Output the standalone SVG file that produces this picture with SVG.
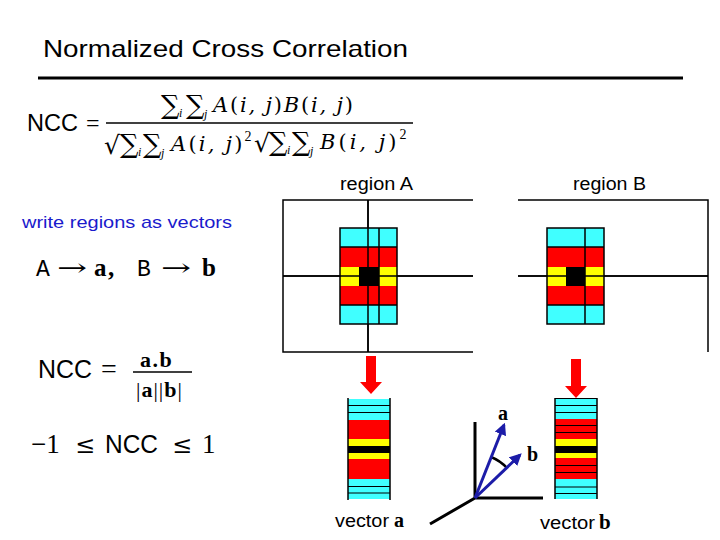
<svg xmlns="http://www.w3.org/2000/svg" width="720" height="540" viewBox="0 0 720 540">
<style>
.sans{font-family:"Liberation Sans",Arial,sans-serif;fill:#000}
.ser{font-family:"Liberation Serif","DejaVu Serif",serif;fill:#000}
.dj{font-family:"DejaVu Serif","Liberation Serif",serif;fill:#000}
.it{font-style:italic}
.bd{font-weight:bold}
.mono{font-family:"Liberation Mono","DejaVu Sans Mono",monospace;fill:#000}
.grid{stroke:#000;stroke-width:1.5;fill:none}
.thin{stroke:#000;stroke-width:1;fill:none}
.cy{fill:#40ffff}.rd{fill:#ff0000}.ye{fill:#ffff00}.bk{fill:#000}
.axis{stroke:#000;stroke-width:3;fill:none}
.vec{stroke:#1c1ca8;stroke-width:3;fill:none}
.sum{font-size:26px;font-style:normal}
.sub{font-family:"Liberation Serif",serif;font-style:italic;font-size:12px}
.up{font-family:"Liberation Serif",serif;font-style:normal;font-size:14px;letter-spacing:0}
.rm{font-style:normal}
</style>
<defs>
<marker id="bh" viewBox="0 0 10 10" refX="8" refY="5" markerWidth="4" markerHeight="4" orient="auto" markerUnits="strokeWidth">
<path d="M0,0 L10,5 L0,10 z" fill="#1c1ca8"/>
</marker>
</defs>
<rect width="720" height="540" fill="#fff"/>

<g id="title">
<text class="sans" x="43" y="57" font-size="24" textLength="365" lengthAdjust="spacingAndGlyphs">Normalized Cross Correlation</text>
<line x1="38" y1="78" x2="683" y2="78" stroke="#000" stroke-width="3"/>
</g>

<g id="formula-ncc">
<text class="sans" x="27" y="131" font-size="24" textLength="51" lengthAdjust="spacingAndGlyphs">NCC</text>
<text class="ser" x="86" y="131" font-size="24">=</text>
<text class="dj it" y="114" font-size="21"><tspan class="sum" x="161">∑</tspan><tspan class="sub" x="179" dy="3">i</tspan><tspan class="sum" x="186" dy="-3">∑</tspan><tspan class="sub" x="204" dy="4">j</tspan><tspan x="213" dy="-6" style="letter-spacing:1.8px">A<tspan class="rm">(</tspan>i, j<tspan class="rm">)</tspan>B<tspan class="rm">(</tspan>i, j<tspan class="rm">)</tspan></tspan></text>
<line x1="106" y1="123" x2="413" y2="123" stroke="#000" stroke-width="1.5"/>
<text class="dj it" y="153" font-size="21"><tspan class="rm" x="104" dy="1" font-size="25">√</tspan><tspan class="sum" x="120" dy="-1">∑</tspan><tspan class="sub" x="138" dy="3">i</tspan><tspan class="sum" x="143" dy="-3">∑</tspan><tspan class="sub" x="161" dy="4">j</tspan><tspan x="171" dy="-6" style="letter-spacing:2.2px">A<tspan class="rm">(</tspan>i, j<tspan class="rm">)</tspan></tspan><tspan class="up" dy="-10">2</tspan><tspan class="rm" x="254" dy="11" font-size="25">√</tspan><tspan class="sum" x="269" dy="-1">∑</tspan><tspan class="sub" x="287" dy="3">i</tspan><tspan class="sum" x="292" dy="-3">∑</tspan><tspan class="sub" x="310" dy="4">j</tspan><tspan x="320" dy="-6" style="letter-spacing:3px">B<tspan class="rm">(</tspan>i, j<tspan class="rm">)</tspan></tspan><tspan class="up" dy="-10">2</tspan></text>
</g>

<g id="labels">
<text class="sans" x="340" y="190" font-size="18" textLength="73" lengthAdjust="spacingAndGlyphs">region A</text>
<text class="sans" x="573" y="190" font-size="18" textLength="73" lengthAdjust="spacingAndGlyphs">region B</text>
<text class="sans" x="22" y="228" font-size="17" style="fill:#1a1acc" textLength="210" lengthAdjust="spacingAndGlyphs">write regions as vectors</text>
</g>

<g id="formula-vectors">
<text class="mono" x="36" y="276" font-size="23">A</text>
<text class="dj" x="57" y="276" font-size="24" textLength="30" lengthAdjust="spacingAndGlyphs">→</text>
<text class="ser bd" x="94" y="276" font-size="25">a</text>
<text class="ser bd" x="108" y="276" font-size="25">,</text>
<text class="mono" x="137" y="276" font-size="23">B</text>
<text class="dj" x="161" y="276" font-size="24" textLength="30" lengthAdjust="spacingAndGlyphs">→</text>
<text class="ser bd" x="202" y="276" font-size="25">b</text>
</g>

<g id="formula-ncc-ab">
<text class="sans" x="38" y="378" font-size="25" textLength="54" lengthAdjust="spacingAndGlyphs">NCC</text>
<text class="ser" x="101" y="378" font-size="28">=</text>
<text class="ser bd" x="140" y="367" font-size="22" letter-spacing="1.5">a.b</text>
<line x1="133" y1="372" x2="192" y2="372" stroke="#000" stroke-width="1.5"/>
<text class="ser" x="136" y="397" font-size="22" letter-spacing="1">|<tspan class="bd">a</tspan>||<tspan class="bd">b</tspan>|</text>
</g>

<g id="formula-range">
<text class="ser" x="31" y="453" font-size="27">−1</text>
<text class="dj" x="75" y="453" font-size="24">≤</text>
<text class="sans" x="105" y="453" font-size="25" textLength="53" lengthAdjust="spacingAndGlyphs">NCC</text>
<text class="dj" x="172" y="453" font-size="24">≤</text>
<text class="ser" x="202" y="453" font-size="27">1</text>
</g>

<g id="region-A">
<path class="grid" d="M473,200 H283 V352 H473 M283,276 H473 M368,200 V352"/>
<rect class="cy" x="340" y="228" width="57" height="19"/>
<rect class="rd" x="340" y="247" width="57" height="20"/>
<rect class="ye" x="340" y="267" width="57" height="19"/>
<rect class="bk" x="359" y="267" width="20" height="19"/>
<rect class="rd" x="340" y="286" width="57" height="19"/>
<rect class="cy" x="340" y="305" width="57" height="19"/>
<path class="grid" d="M340,228 H397 V324 H340 Z M340,247 H397 M340,305 H397 M379,228 V324 M368,200 V352 M283,276 H473"/>
</g>

<g id="region-B">
<path class="grid" d="M518,200 H708 V352 M518,276 H708"/>
<rect class="cy" x="547" y="228" width="57" height="19"/>
<rect class="rd" x="547" y="247" width="57" height="20"/>
<rect class="ye" x="547" y="267" width="57" height="19"/>
<rect class="bk" x="566" y="267" width="19" height="19"/>
<rect class="rd" x="547" y="286" width="57" height="19"/>
<rect class="cy" x="547" y="305" width="57" height="19"/>
<path class="grid" d="M547,228 H604 V324 H547 Z M547,247 H604 M547,305 H604 M585,228 V324 M518,276 H708"/>
</g>

<g id="vector-a">
<rect class="cy" x="348" y="399" width="42" height="21"/>
<rect class="rd" x="348" y="420" width="42" height="19"/>
<rect class="ye" x="348" y="439" width="42" height="7"/>
<rect class="bk" x="348" y="446" width="42" height="7"/>
<rect class="ye" x="348" y="453" width="42" height="6"/>
<rect class="rd" x="348" y="459" width="42" height="20"/>
<rect class="cy" x="348" y="479" width="42" height="20"/>
<path class="thin" d="M348,405.5 H390 M348,412.5 H390 M348,486.5 H390 M348,493 H390"/>
<path class="grid" d="M348,398 V500 M390,398 V500"/>
<text class="sans" x="335" y="527" font-size="18" textLength="54" lengthAdjust="spacingAndGlyphs">vector</text>
<text class="ser bd" x="394" y="527" font-size="20">a</text>
</g>

<g id="vector-b">
<rect class="cy" x="555" y="398" width="42" height="21"/>
<rect class="rd" x="555" y="419" width="42" height="20"/>
<rect class="ye" x="555" y="439" width="42" height="7"/>
<rect class="bk" x="555" y="446" width="42" height="7"/>
<rect class="ye" x="555" y="453" width="42" height="5"/>
<rect class="rd" x="555" y="458" width="42" height="21"/>
<rect class="cy" x="555" y="479" width="42" height="20"/>
<path class="thin" d="M555,398.5 H597 M555,405.5 H597 M555,412.5 H597 M555,425.5 H597 M555,432.5 H597 M555,465.5 H597 M555,472.5 H597 M555,487 H597 M555,493.5 H597"/>
<path class="grid" d="M555,398 V499 M597,398 V499"/>
<text class="sans" x="540" y="529" font-size="18" textLength="55" lengthAdjust="spacingAndGlyphs">vector</text>
<text class="ser bd" x="599" y="529" font-size="21">b</text>
</g>

<g id="axes">
<path class="axis" d="M475,422 V498 H543 M475,498 L430,524"/>
<path d="M491,457 A44,44 0 0 1 507,468" stroke="#000" stroke-width="2.5" fill="none"/>
<text class="ser bd" x="498" y="420" font-size="20">a</text>
<text class="ser bd" x="527" y="461" font-size="20">b</text>
</g>

<g id="connectors">
<polygon points="366,356 376,356 376,382 382,382 371,394 360,382 366,382" fill="#f00"/>
<polygon points="571,359 581,359 581,386 587,386 576,398 565,386 571,386" fill="#f00"/>
<line class="vec" x1="475" y1="498" x2="504" y2="425" marker-end="url(#bh)"/>
<line class="vec" x1="475" y1="498" x2="520" y2="455" marker-end="url(#bh)"/>
</g>
</svg>
